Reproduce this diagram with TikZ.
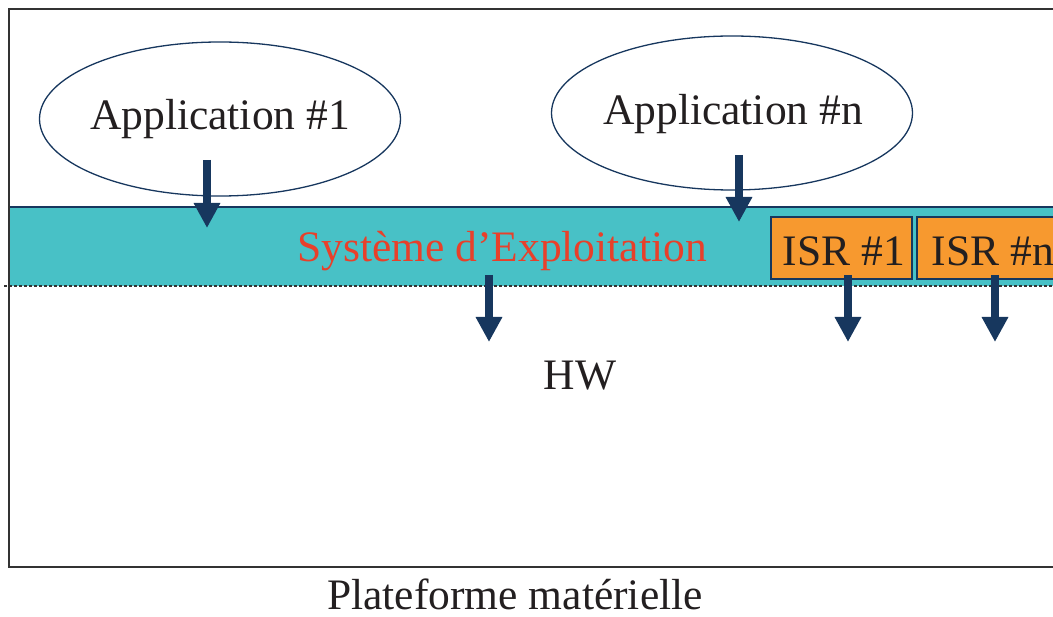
\documentclass[tikz,border=0pt]{standalone}
\usepackage{fontspec}
\setmainfont{Liberation Serif}
\usetikzlibrary{arrows.meta,shapes.geometric}
\definecolor{bandcyan}{HTML}{48C1C6}
\definecolor{isrorange}{HTML}{F7992F}
\definecolor{osred}{HTML}{E8402A}
\definecolor{navy}{HTML}{17375E}
\definecolor{ink}{HTML}{231F20}
\definecolor{framegray}{HTML}{333333}
\tikzset{
  x=1pt, y=-1pt,
  lbl/.style={inner sep=0pt, anchor=base, text=ink,
    font=\fontsize{43.5}{50}\selectfont},
  appellipse/.style={ellipse, draw=navy, line width=1.3pt, fill=white,
    minimum width=361pt, minimum height=154pt, inner sep=0pt},
  isrbox/.style={rectangle, draw=navy, line width=1.2pt, fill=isrorange,
    minimum width=141pt, minimum height=62pt, inner sep=0pt},
  flow/.style={draw=navy, line width=8pt,
    -{Triangle[length=25pt, width=25pt]}},
}
\begin{document}
\begin{tikzpicture}
\useasboundingbox (0,0) rectangle (1053,617);

\begin{scope}
\clip (0,0) rectangle (1053,617);
% operating-system band
\fill[bandcyan] (9,207) rectangle (1070,286);
\draw[navy, line width=1.2pt] (9,207) -- (1070,207);
\draw[framegray, line width=1.2pt, dash pattern=on 3pt off 2pt] (4,286) -- (1070,286);

% outer frame of the hardware platform
\draw[framegray, line width=1.6pt] (1070,9) -- (9,9) -- (9,567) -- (1070,567);

% interrupt service routines
\node[isrbox] (isr1) at (841.5,248) {};
\node[lbl] (isr1t) at (844,266) {ISR \#1};
\node[isrbox] (isrn) at (987.5,248) {};
\node[lbl] (isrnt) at (993,266) {ISR \#n};
\end{scope}

% applications
\node[appellipse] (app1) at (220,119) {};
\node[lbl] (app1t) at (220,130) {Application \#1};
\node[appellipse] (appn) at (732,113) {};
\node[lbl] (appnt) at (733,125) {Application \#n};

% labels
\node[lbl, text=osred] (os) at (502,262) {Système d’Exploitation};
\node[lbl] (hw) at (580,390) {HW};
\node[lbl] (plat) at (515,609) {Plateforme matérielle};

% arrow end points
\coordinate (a1s) at (207,160);  \coordinate (a1e) at (207,228);
\coordinate (a2s) at (739,155);  \coordinate (a2e) at (739,222);
\coordinate (a3s) at (489,275);  \coordinate (a3e) at (489,342);
\coordinate (a4s) at (848,275);  \coordinate (a4e) at (848,342);
\coordinate (a5s) at (995,275);  \coordinate (a5e) at (995,342);

\draw[flow] (a1s) -- (a1e);
\draw[flow] (a2s) -- (a2e);
\draw[flow] (a3s) -- (a3e);
\draw[flow] (a4s) -- (a4e);
\draw[flow] (a5s) -- (a5e);
\end{tikzpicture}
\end{document}
